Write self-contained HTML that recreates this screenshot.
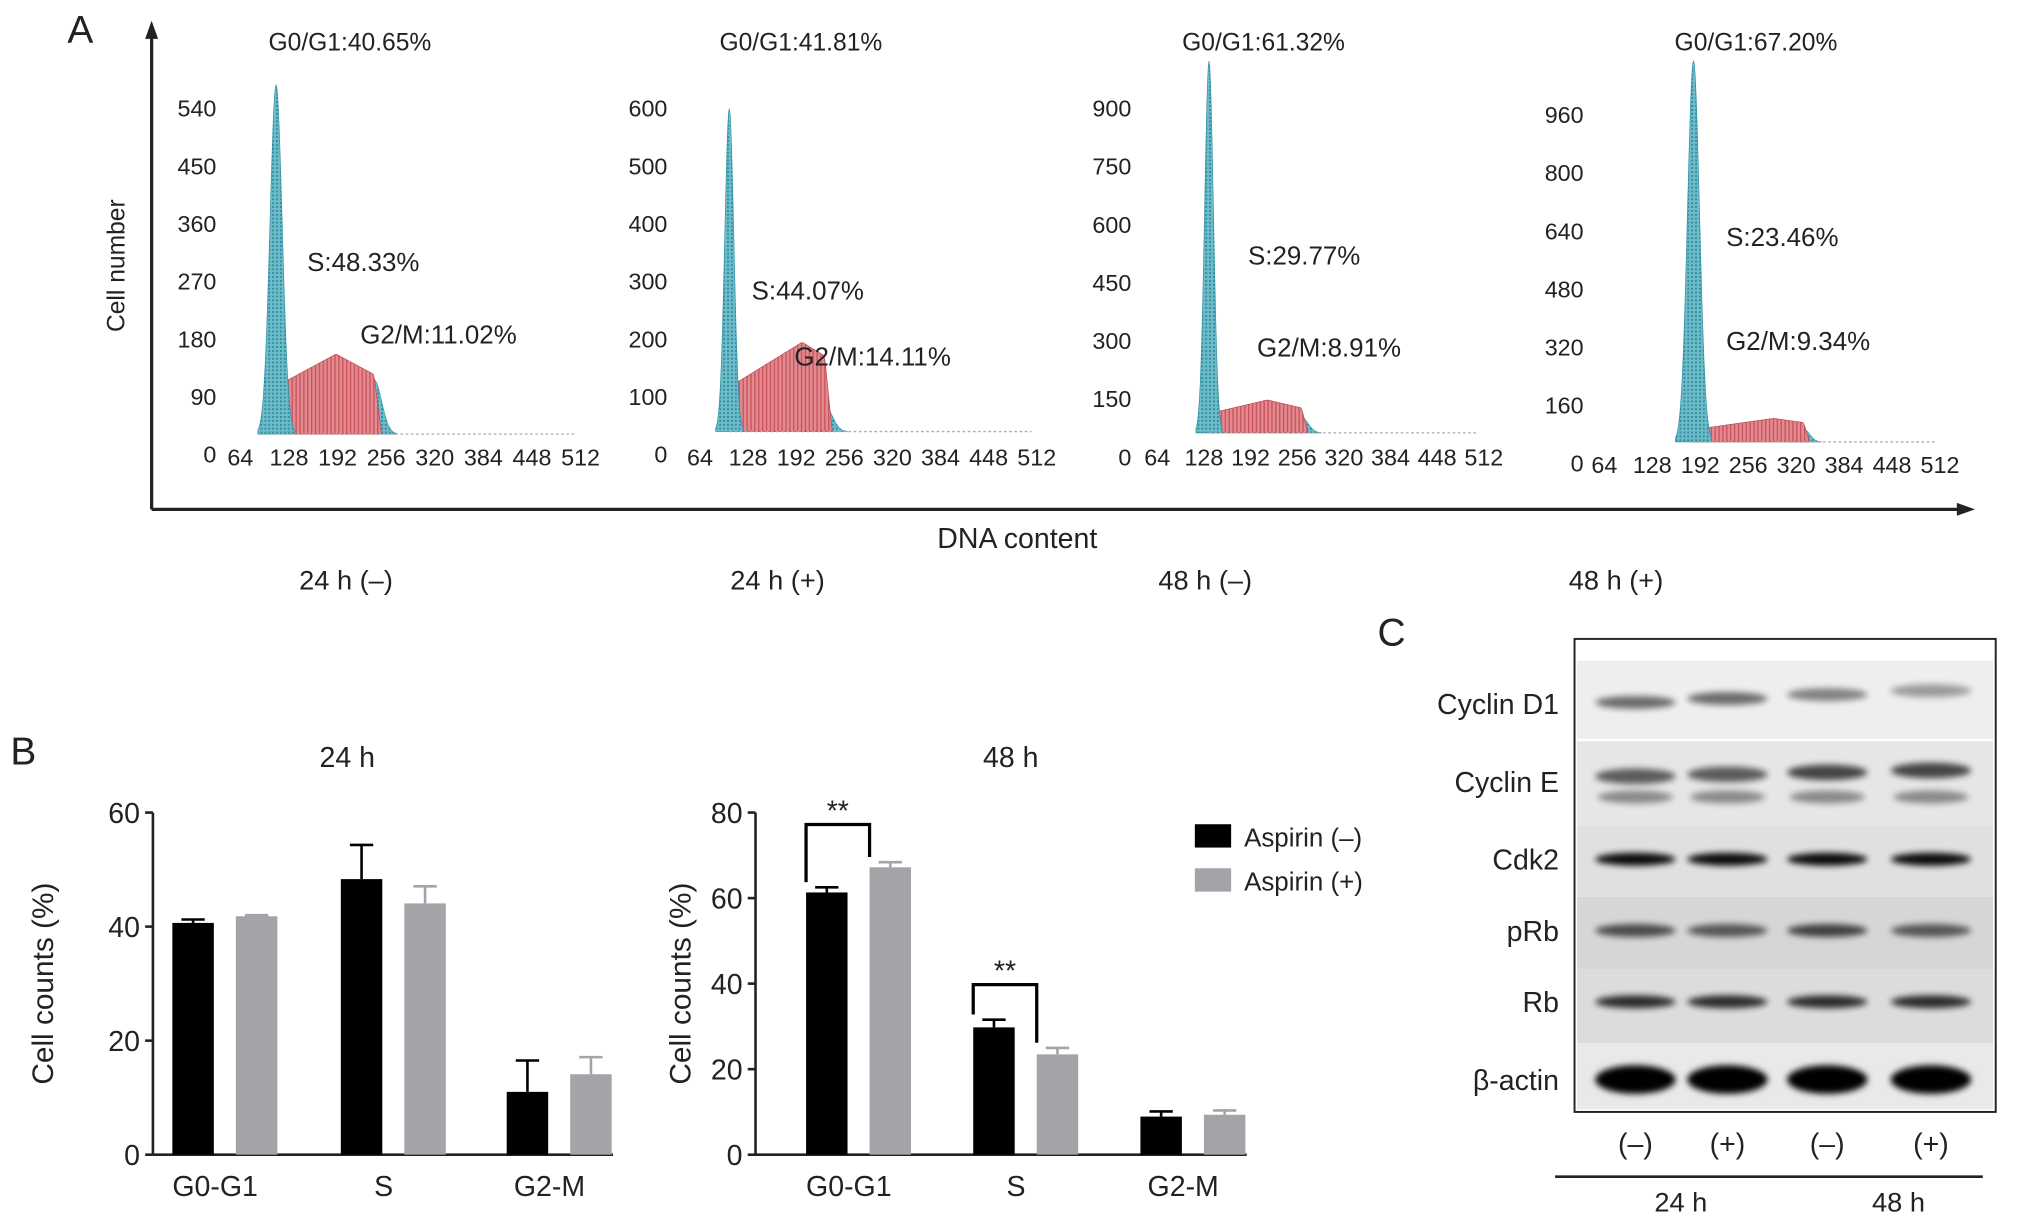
<!DOCTYPE html>
<html><head><meta charset="utf-8"><style>
html,body{margin:0;padding:0;background:#fff}
svg{display:block}
text{font-family:"Liberation Sans",Arial,sans-serif;fill:#222}
</style></head><body>
<svg id="fig" width="2032" height="1226" viewBox="0 0 1568 946" xmlns="http://www.w3.org/2000/svg">
<defs>
<pattern id="cyanPat" width="3" height="3" patternUnits="userSpaceOnUse"><rect width="3" height="3" fill="#6fbcc8"/><rect width="1.5" height="1.5" fill="#2c8fa4"/></pattern>
<pattern id="redPat" width="3" height="3" patternUnits="userSpaceOnUse"><rect width="3" height="3" fill="#e28a8f"/><rect width="1" height="3" fill="#c9515a"/></pattern>
<filter id="blur" x="-20%" y="-100%" width="140%" height="300%"><feGaussianBlur stdDeviation="2.5"/></filter>
</defs>
<g id="panelA">
<text x="52" y="33" font-size="30">A</text>
<line x1="117" y1="393" x2="117" y2="26" stroke="#222" stroke-width="2.5"/>
<polygon points="117,16 112,30 122,30" fill="#222"/>
<line x1="117" y1="393" x2="1512" y2="393" stroke="#222" stroke-width="2.5"/>
<polygon points="1524,393 1510,388 1510,398" fill="#222"/>
<text transform="translate(96,205) rotate(-90)" text-anchor="middle" font-size="19">Cell number</text>
<text x="785" y="423" text-anchor="middle" font-size="22">DNA content</text>
<g id="hists"></g>
</g>
<g id="panelB">
<text x="8" y="590" font-size="30">B</text>
<g id="bars"></g>
<rect x="922" y="636" width="28" height="18" fill="#000"/>
<text x="960" y="653" font-size="20">Aspirin (–)</text>
<rect x="922" y="670" width="28" height="18" fill="#a3a3a8"/>
<text x="960" y="687" font-size="20">Aspirin (+)</text>
</g>
<g id="panelC">
<text x="1063" y="498" font-size="30">C</text>
<rect x="1215" y="493" width="325" height="365" fill="#fff" stroke="#222" stroke-width="1.5"/>
<g id="blot"></g>
<line x1="1200" y1="908" x2="1530" y2="908" stroke="#222" stroke-width="2"/>
<text x="1297" y="935" text-anchor="middle" font-size="21">24 h</text>
<text x="1465" y="935" text-anchor="middle" font-size="21">48 h</text>
</g>
</svg>
<script>
const NS="http://www.w3.org/2000/svg";
function mk(tag,attrs,parent,txt){const e=document.createElementNS(NS,tag);for(const k in attrs)e.setAttribute(k,attrs[k]);if(txt!==undefined)e.textContent=txt;parent.appendChild(e);return e;}

// ---- Panel A data ----
const histTitles=["G0/G1:40.65%","G0/G1:41.81%","G0/G1:61.32%","G0/G1:67.20%"];
const histSLabels=["S:48.33%","S:44.07%","S:29.77%","S:23.46%"];
const histG2Labels=["G2/M:11.02%","G2/M:14.11%","G2/M:8.91%","G2/M:9.34%"];
const histConds=["24 h (–)","24 h (+)","48 h (–)","48 h (+)"];
const histYTicks=[[0,90,180,270,360,450,540],[0,100,200,300,400,500,600],[0,150,300,450,600,750,900],[0,160,320,480,640,800,960]];
const g1Pos=[111,103,135,183]; const g1Height=[545,560,960,1050]; const g1Width=[8,6,6,8];
const sCenter=[190,200,215,290]; const sHeight=[125,155,85,65]; const sWidth=[80,60,50,30];
const g2Pos=[240,230,262,330]; const g2Height=[85,45,40,35]; const g2Width=[10,10,9,8];
const xTicks=[64,128,192,256,320,384,448,512];
const hLayout=[
 {lab:167,x0:148,x1:448,y0:350,y1:83,base:335,xl:352,ty:32,cx:270},
 {lab:515,x0:503,x1:800,y0:350,y1:83,base:333,xl:352,ty:32,cx:618},
 {lab:873,x0:857,x1:1145,y0:352,y1:83,base:334,xl:352,ty:32,cx:975},
 {lab:1222,x0:1201,x1:1497,y0:357,y1:88,base:341,xl:358,ty:32,cx:1355}];
const sLabPos=[[237,202],[580,224],[963,197],[1332,183]];
const g2LabPos=[[278,258],[613,275],[970,268],[1332,263]];
const hg=document.getElementById('hists');
histTitles.forEach((t,i)=>{
  const L=hLayout[i];
  const g=mk('g',{},hg);
  
  
  const xs=v=>L.x0+(v/512)*(L.x1-L.x0);
  const top=histYTicks[i][6];
  const ys=v=>L.y0-(v/top)*(L.y0-L.y1);
  const yd=v=>L.base-(v/top)*(L.y0-L.y1);
  histYTicks[i].forEach(v=>{const e=mk('text',{x:L.lab,y:ys(v)+7,'text-anchor':'end','font-size':18},g,String(v));});
  xTicks.forEach(v=>{const e=mk('text',{x:xs(v),y:L.xl+7,'text-anchor':'middle','font-size':18},g,String(v));});
  const gauss=(x,c,h,w)=>h*Math.exp(-0.5*((x-c)/w)**2);
  let sp='M'+xs(g1Pos[i])+','+yd(0);
  for(let x=g1Pos[i];x<=g2Pos[i]+g2Width[i];x+=2){let v=sHeight[i]*(1-Math.abs((x-sCenter[i])/((g2Pos[i]-g1Pos[i])*0.6+1))*0.4);v=Math.max(0,Math.min(v,sHeight[i]));if(x<g1Pos[i]+g1Width[i])v*=(x-g1Pos[i])/g1Width[i];if(x>g2Pos[i])v*=Math.max(0,1-(x-g2Pos[i])/g2Width[i]);sp+=' L'+xs(x)+','+yd(v);}
  sp+=' L'+xs(g2Pos[i]+g2Width[i])+','+yd(0)+'Z';
  const gp=(c,h,w)=>{let p='M'+xs(c-3*w)+','+yd(0);for(let x=c-3*w;x<=c+3*w;x+=1)p+=' L'+xs(x)+','+yd(gauss(x,c,h,w));return p+' L'+xs(c+3*w)+','+yd(0)+'Z';};
  const e2=mk('path',{d:gp(g2Pos[i],g2Height[i],g2Width[i]),fill:'url(#cyanPat)',stroke:'#3a9aab','stroke-width':0.5},g);
  const e1=mk('path',{d:sp,fill:'url(#redPat)',stroke:'#b5454e','stroke-width':0.5},g);
  const e0=mk('path',{d:gp(g1Pos[i],g1Height[i],g1Width[i]),fill:'url(#cyanPat)',stroke:'#2c8fa4','stroke-width':0.5},g);
  mk('line',{x1:xs(g1Pos[i]),y1:yd(0),x2:xs(505),y2:yd(0),stroke:'#aaa','stroke-width':1,'stroke-dasharray':'2,2'},g);
  const a=mk('text',{x:L.cx,y:L.ty+7,'text-anchor':'middle','font-size':19},g,t);
  const b=mk('text',{x:sLabPos[i][0],y:sLabPos[i][1]+7,'font-size':20},g,histSLabels[i]);
  const c=mk('text',{x:g2LabPos[i][0],y:g2LabPos[i][1]+7,'font-size':20},g,histG2Labels[i]);
  const d=mk('text',{x:[267,600,930,1247][i],y:455,'text-anchor':'middle','font-size':21},g,histConds[i]);
});

// ---- Panel B data ----
const barCategories=["G0-G1","S","G2-M"];
const minus24=[40.65,48.33,11.02]; const plus24=[41.81,44.07,14.11];
const minus24Err=[0.6,6,5.5]; const plus24Err=[0.2,3,3];
const minus48=[61.32,29.77,8.91]; const plus48=[67.2,23.46,9.34];
const minus48Err=[1.2,1.8,1.2]; const plus48Err=[1.2,1.5,1];
const ticks24=[0,20,40,60]; const ticks48=[0,20,40,60,80];
const bg=document.getElementById('bars');
function barChart(cfg){
  const g=mk('g',{},bg);
  
  
  const ys=v=>cfg.y0-(v/cfg.max)*(cfg.y0-cfg.y1);
  mk('line',{x1:cfg.ax,y1:cfg.y1,x2:cfg.ax,y2:cfg.y0,stroke:'#222','stroke-width':2},g);
  mk('line',{x1:cfg.ax,y1:cfg.y0,x2:cfg.axEnd,y2:cfg.y0,stroke:'#222','stroke-width':2},g);
  cfg.ticks.forEach(v=>{mk('line',{x1:cfg.ax-6,y1:ys(v),x2:cfg.ax,y2:ys(v),stroke:'#222','stroke-width':2},g);const t=mk('text',{x:cfg.ax-10,y:ys(v)+8,'text-anchor':'end','font-size':22},g,String(v));});
  const yt=mk('text',{transform:`translate(${cfg.titleYX},${(cfg.y0+cfg.y1)/2}) rotate(-90)`,'text-anchor':'middle','font-size':23},g,'Cell counts (%)');
  const tt=mk('text',{x:cfg.titleX,y:592,'text-anchor':'middle','font-size':22},g,cfg.title);
  barCategories.forEach((c,i)=>{
    const cx=cfg.catX[i];
    [[cfg.m,cfg.me,'#000',cx-33],[cfg.p,cfg.pe,'#a3a3a8',cx+16]].forEach(([vals,errs,col,x],k)=>{
      const v=vals[i],e=errs[i];
      mk('line',{x1:x+16,y1:ys(v),x2:x+16,y2:ys(v+e),stroke:col,'stroke-width':2},g);
      mk('line',{x1:x+7,y1:ys(v+e),x2:x+25,y2:ys(v+e),stroke:col,'stroke-width':2},g);
      const r=mk('rect',{x:x,y:ys(v),width:32,height:ys(0)-ys(v),fill:col},g);
      
      
    });
    const lt=mk('text',{x:cx,y:cfg.y0+32,'text-anchor':'middle','font-size':22},g,c);
  });
  return ys;
}
barChart({name:'bar-chart-24h',title:'24 h',titleX:268,titleYX:41,ax:118,axEnd:473,y0:891,y1:627,max:60,ticks:ticks24,catX:[166,296,424],m:minus24,p:plus24,me:minus24Err,pe:plus24Err});
const ys48=barChart({name:'bar-chart-48h',title:'48 h',titleX:780,titleYX:533,ax:583,axEnd:962,y0:891,y1:627,max:80,ticks:ticks48,catX:[655,784,913],m:minus48,p:plus48,me:minus48Err,pe:plus48Err});
[[0,622,671],[1,751,800]].forEach(([i,xa,xb])=>{
  const top=ys48(Math.max(minus48[i],plus48[i])+10);
  const g=mk('g',{},bg);
  
  
  mk('path',{d:`M${xa},${ys48(minus48[i]+minus48Err[i])-4} L${xa},${top} L${xb},${top} L${xb},${ys48(plus48[i]+plus48Err[i])-4}`,fill:'none',stroke:'#000','stroke-width':2.5},g);
  mk('text',{x:(xa+xb)/2,y:top-3,'text-anchor':'middle','font-size':22},g,'**');
});

// ---- Panel C ----
const blotLabels=["Cyclin D1","Cyclin E","Cdk2","pRb","Rb","β-actin"];
const blotY=[543,603,663,718,773,833];
const bandIntensity=[[0.55,0.55,0.45,0.35],[0.6,0.6,0.7,0.7],[0.95,0.95,0.95,0.95],[0.65,0.6,0.7,0.6],[0.8,0.8,0.8,0.8],[1,1,1,1]];
const laneX=[1262,1333,1410,1490];
const stripBg=["#eeeeee","#e6e6e6","#e0e0e0","#d6d6d6","#dcdcdc","#e9e9e9"];
const stripTop=[510,572,637,692,748,805];
const stripBot=[570,637,692,748,805,856];
const blot=document.getElementById('blot');
blotLabels.forEach((lab,i)=>{
  const st=mk('rect',{x:1217,y:stripTop[i],width:321,height:stripBot[i]-stripTop[i],fill:stripBg[i]},blot);
  
  
  const t=mk('text',{x:1203,y:blotY[i]+8,'text-anchor':'end','font-size':22},blot,lab);
  
  
  laneX.forEach((lx,j)=>{
    const v=bandIntensity[i][j];
    const h=i===5?22:(i===1?12:10);
    const b=mk('ellipse',{cx:lx,cy:blotY[i]+(i===0?-1-j*3:0)+(i===1?-4-j*1.5:0),rx:31,ry:h/2,fill:'#000',opacity:v,filter:'url(#blur)'},blot);
    
    
    if(i===1){mk('ellipse',{cx:lx,cy:blotY[i]+12,rx:29,ry:5,fill:'#000',opacity:0.4,filter:'url(#blur)'},blot);}
  });
});
["(–)","(+)","(–)","(+)"].forEach((s,j)=>{const t=mk('text',{x:laneX[j],y:890,'text-anchor':'middle','font-size':22},blot,s);});
</script>
</body></html>
